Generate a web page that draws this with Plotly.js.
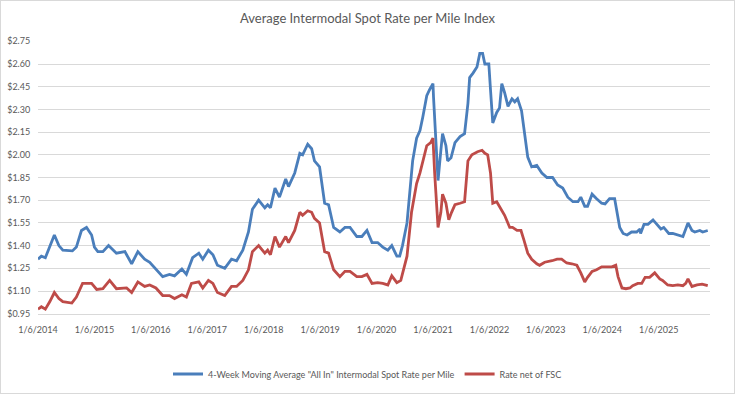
<!DOCTYPE html>
<html>
<head>
<meta charset="utf-8">
<script src="https://cdn.plot.ly/plotly-3.0.1.min.js"></script>
<style>
html,body{margin:0;padding:0;background:#fff;}
#chart{width:733px;height:392px;border:1px solid #d9d9d9;}
</style>
</head>
<body>
<div id="chart"></div>
<script>
// Years elapsed since 1/6/2014
const blueT = [0.00,0.06,0.13,0.21,0.29,0.37,0.44,0.61,0.68,0.77,0.86,0.95,1.00,1.06,1.15,1.25,1.39,1.54,1.66,1.77,1.89,1.98,2.07,2.21,2.33,2.42,2.55,2.63,2.74,2.85,2.92,3.02,3.10,3.18,3.31,3.43,3.52,3.63,3.73,3.80,3.91,4.02,4.07,4.12,4.20,4.28,4.39,4.44,4.55,4.64,4.69,4.78,4.85,4.90,4.99,5.08,5.15,5.24,5.35,5.44,5.53,5.65,5.74,5.83,5.92,6.02,6.11,6.20,6.27,6.36,6.41,6.46,6.54,6.59,6.64,6.71,6.77,6.82,6.89,6.94,7.00,7.01,7.05,7.09,7.14,7.17,7.23,7.26,7.32,7.39,7.48,7.56,7.62,7.65,7.71,7.78,7.83,7.88,7.92,7.99,8.02,8.06,8.13,8.18,8.22,8.27,8.33,8.40,8.45,8.50,8.57,8.63,8.68,8.75,8.84,8.93,9.02,9.12,9.21,9.30,9.39,9.48,9.57,9.62,9.69,9.74,9.82,9.90,9.99,10.05,10.13,10.22,10.28,10.31,10.37,10.44,10.52,10.61,10.67,10.68,10.74,10.81,10.90,10.97,11.04,11.09,11.18,11.25,11.34,11.43,11.48,11.52,11.59,11.64,11.73,11.78,11.87];
const blueVals = [1.31,1.33,1.32,1.40,1.47,1.40,1.37,1.365,1.39,1.50,1.52,1.47,1.39,1.36,1.36,1.40,1.35,1.36,1.28,1.36,1.31,1.29,1.25,1.195,1.21,1.20,1.245,1.21,1.32,1.35,1.31,1.37,1.34,1.27,1.25,1.31,1.30,1.37,1.49,1.64,1.70,1.65,1.67,1.65,1.78,1.72,1.84,1.79,1.88,2.01,2.00,2.07,2.04,1.96,1.92,1.68,1.67,1.52,1.49,1.52,1.52,1.46,1.46,1.50,1.42,1.42,1.39,1.37,1.40,1.33,1.33,1.40,1.55,1.77,1.96,2.11,2.16,2.25,2.39,2.43,2.47,2.38,2.10,1.83,2.03,2.14,2.06,1.96,1.98,2.08,2.12,2.14,2.34,2.51,2.54,2.58,2.67,2.67,2.60,2.60,2.43,2.21,2.28,2.31,2.47,2.41,2.32,2.37,2.35,2.37,2.29,2.12,1.985,1.92,1.93,1.88,1.85,1.85,1.80,1.78,1.72,1.69,1.69,1.72,1.66,1.66,1.74,1.71,1.68,1.675,1.71,1.71,1.59,1.52,1.48,1.47,1.49,1.49,1.51,1.48,1.54,1.54,1.57,1.54,1.51,1.52,1.48,1.48,1.47,1.46,1.51,1.55,1.50,1.49,1.50,1.49,1.50];

const redT = [0.00,0.06,0.13,0.21,0.29,0.37,0.44,0.60,0.68,0.79,0.95,1.04,1.15,1.27,1.39,1.57,1.66,1.77,1.89,1.98,2.09,2.21,2.33,2.42,2.55,2.63,2.72,2.85,2.92,3.02,3.10,3.18,3.31,3.43,3.52,3.63,3.73,3.80,3.91,4.02,4.07,4.12,4.20,4.28,4.39,4.44,4.55,4.64,4.69,4.78,4.85,4.90,4.99,5.08,5.15,5.24,5.35,5.44,5.53,5.65,5.74,5.83,5.92,6.02,6.11,6.20,6.27,6.36,6.43,6.54,6.62,6.71,6.77,6.82,6.89,6.96,7.00,7.03,7.09,7.14,7.17,7.23,7.28,7.33,7.39,7.48,7.56,7.62,7.69,7.79,7.87,7.92,7.97,8.02,8.06,8.13,8.18,8.24,8.27,8.36,8.41,8.49,8.56,8.61,8.68,8.75,8.84,8.89,8.98,9.11,9.20,9.28,9.37,9.46,9.55,9.62,9.69,9.74,9.82,9.90,9.99,10.08,10.17,10.24,10.28,10.35,10.42,10.49,10.54,10.63,10.70,10.76,10.84,10.93,11.02,11.07,11.16,11.25,11.34,11.43,11.48,11.52,11.59,11.68,11.77,11.87];
const redVals = [0.98,0.996,0.98,1.03,1.09,1.05,1.03,1.02,1.06,1.15,1.15,1.11,1.115,1.17,1.115,1.12,1.09,1.16,1.13,1.14,1.12,1.07,1.07,1.05,1.075,1.06,1.15,1.16,1.12,1.17,1.15,1.09,1.07,1.13,1.13,1.17,1.24,1.36,1.40,1.35,1.37,1.34,1.46,1.39,1.46,1.42,1.50,1.62,1.60,1.63,1.62,1.58,1.55,1.36,1.35,1.24,1.195,1.23,1.23,1.195,1.195,1.21,1.15,1.155,1.15,1.14,1.20,1.155,1.17,1.33,1.62,1.81,1.88,1.95,2.06,2.08,2.11,1.88,1.52,1.62,1.74,1.68,1.57,1.62,1.67,1.68,1.69,1.96,2.00,2.02,2.03,2.01,2.00,1.88,1.68,1.69,1.66,1.62,1.60,1.52,1.52,1.50,1.50,1.44,1.35,1.31,1.28,1.27,1.29,1.30,1.31,1.31,1.285,1.28,1.27,1.22,1.16,1.19,1.23,1.24,1.26,1.26,1.26,1.27,1.195,1.12,1.115,1.12,1.135,1.15,1.15,1.19,1.19,1.22,1.18,1.17,1.14,1.135,1.14,1.135,1.15,1.18,1.13,1.14,1.145,1.135];

const xTickVals = [0,1,2,3,4,5,6,7,8,9,10,11];
const xTickText = ["1/6/2014","1/6/2015","1/6/2016","1/6/2017","1/6/2018","1/6/2019","1/6/2020","1/6/2021","1/6/2022","1/6/2023","1/6/2024","1/6/2025"];
const yTickVals = [0.95,1.10,1.25,1.40,1.55,1.70,1.85,2.00,2.15,2.30,2.45,2.60,2.75];

const blueName = '4-Week Moving Average "All In" Intermodal Spot Rate per Mile';
const redName = 'Rate net of FSC';

const FONT = 'Lato, "Open Sans", sans-serif';
const GREY = '#595959';

const traces = [
  {x: blueT, y: blueVals, name: blueName, type: 'scatter', mode: 'lines',
   line: {color: '#4A7EBB', width: 2.8}},
  {x: redT, y: redVals, name: redName, type: 'scatter', mode: 'lines',
   line: {color: '#BE4B48', width: 2.8}}
];

const layout = {
  width: 733, height: 392,
  margin: {l: 37, r: 24, t: 40, b: 79},
  paper_bgcolor: '#ffffff', plot_bgcolor: '#ffffff',
  font: {family: FONT, color: GREY, size: 9},
  title: {text: 'Average Intermodal Spot Rate per Mile Index',
          font: {family: FONT, size: 13, color: GREY},
          x: 0.5, xanchor: 'center', xref: 'container',
          y: 1 - 17/392, yanchor: 'middle', yref: 'container'},
  showlegend: true,
  legend: {orientation: 'h', x: 0.5, xanchor: 'center', xref: 'container',
           y: 1 - 373/392, yanchor: 'middle', yref: 'container',
           font: {family: FONT, size: 9, color: GREY},
           itemwidth: 30, tracegroupgap: 0},
  xaxis: {type: 'linear', range: [0, 11.91],
          tickmode: 'array', tickvals: xTickVals, ticktext: xTickText,
          showgrid: false, zeroline: false, showline: true, linecolor: '#d9d9d9', linewidth: 1,
          ticks: 'outside', ticklen: 7, tickcolor: 'rgba(0,0,0,0)',
          tickfont: {family: FONT, size: 9, color: GREY}, fixedrange: true},
  yaxis: {range: [0.948, 2.752], tickmode: 'array', tickvals: yTickVals,
          tickformat: '$.2f', showgrid: true, gridcolor: '#d9d9d9', gridwidth: 1,
          zeroline: false, showline: false, ticks: 'outside', ticklen: 5, tickcolor: 'rgba(0,0,0,0)',
          tickfont: {family: FONT, size: 9, color: GREY}, fixedrange: true},
  hovermode: false
};

Plotly.newPlot('chart', traces, layout, {staticPlot: true, displayModeBar: false});
</script>
</body>
</html>
